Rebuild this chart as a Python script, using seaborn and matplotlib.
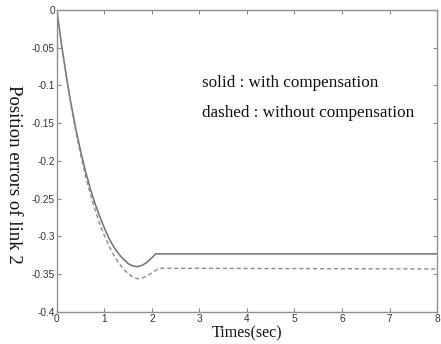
import numpy as np
import pandas as pd
import matplotlib
matplotlib.use("Agg")
import matplotlib.pyplot as plt
import seaborn as sns

# time samples (sec)
t_solid = [0, 0.1, 0.2, 0.3, 0.4, 0.5, 0.6, 0.7, 0.8, 0.9, 1.0, 1.1, 1.2, 1.3,
           1.4, 1.5, 1.6, 1.7, 1.8, 1.9, 2.0, 2.08, 8.0]
e_solid = [0, -0.047, -0.088, -0.125, -0.158, -0.187, -0.213, -0.236, -0.256,
           -0.273, -0.289, -0.303, -0.314, -0.323, -0.330, -0.336, -0.339,
           -0.340, -0.338, -0.334, -0.328, -0.323, -0.323]

t_dashed = [0, 0.1, 0.2, 0.3, 0.4, 0.5, 0.6, 0.7, 0.8, 0.9, 1.0, 1.1, 1.2, 1.3,
            1.4, 1.5, 1.6, 1.7, 1.8, 1.9, 2.0, 2.1, 2.2, 8.0]
e_dashed = [0, -0.048, -0.090, -0.128, -0.162, -0.192, -0.219, -0.243, -0.264,
            -0.283, -0.299, -0.313, -0.325, -0.335, -0.343, -0.349, -0.354,
            -0.356, -0.355, -0.352, -0.348, -0.344, -0.342, -0.343]

x_ticks = [0, 1, 2, 3, 4, 5, 6, 7, 8]
y_ticks = [0, -0.05, -0.1, -0.15, -0.2, -0.25, -0.3, -0.35, -0.4]
y_tick_labels = ["0", "-0.05", "-0.1", "-0.15", "-0.2", "-0.25", "-0.3", "-0.35", "-0.4"]

sns.set_style("white")
plt.rcParams["font.family"] = ["Liberation Sans", "DejaVu Sans"]

df_s = pd.DataFrame({"t": t_solid, "e": e_solid})
df_d = pd.DataFrame({"t": t_dashed, "e": e_dashed})

fig = plt.figure(figsize=(4.41, 3.44), dpi=100)
ax = fig.add_axes([0.129, 0.093, 0.862, 0.878])

sns.lineplot(data=df_s, x="t", y="e", ax=ax, color="#707070", linewidth=1.1,
             estimator=None, sort=False)
sns.lineplot(data=df_d, x="t", y="e", ax=ax, color="#8c8c8c", linewidth=1.0,
             linestyle=(0, (3, 2)), estimator=None, sort=False)

ax.set_xlim(0, 8)
ax.set_ylim(-0.4, 0)
ax.set_xticks(x_ticks)
ax.set_xticklabels([str(v) for v in x_ticks])
ax.set_yticks(y_ticks)
ax.set_yticklabels(y_tick_labels)
ax.tick_params(direction="in", length=3, width=0.8, color="#888888",
               labelsize=7.3, labelcolor="#333333", pad=1.5,
               top=True, right=True, bottom=True, left=True)
for sp in ax.spines.values():
    sp.set_color("#909090")
    sp.set_linewidth(1.0)

ax.set_xlabel("Times(sec)", family=["Liberation Serif"], fontsize=11.5, labelpad=1, color="#111111")
ax.set_ylabel("Position errors of link 2", family=["Liberation Serif"], fontsize=13.5,
              rotation=270, color="#111111", va="center")
ax.yaxis.set_label_coords(-0.115, 0.457)

ax.text(3.05, -0.097, "solid : with compensation", family=["Liberation Serif"],
        fontsize=12.3, va="center", ha="left", color="#111111")
ax.text(3.05, -0.136, "dashed : without compensation", family=["Liberation Serif"],
        fontsize=12.3, va="center", ha="left", color="#111111")

fig.savefig("out.png", dpi=100)
